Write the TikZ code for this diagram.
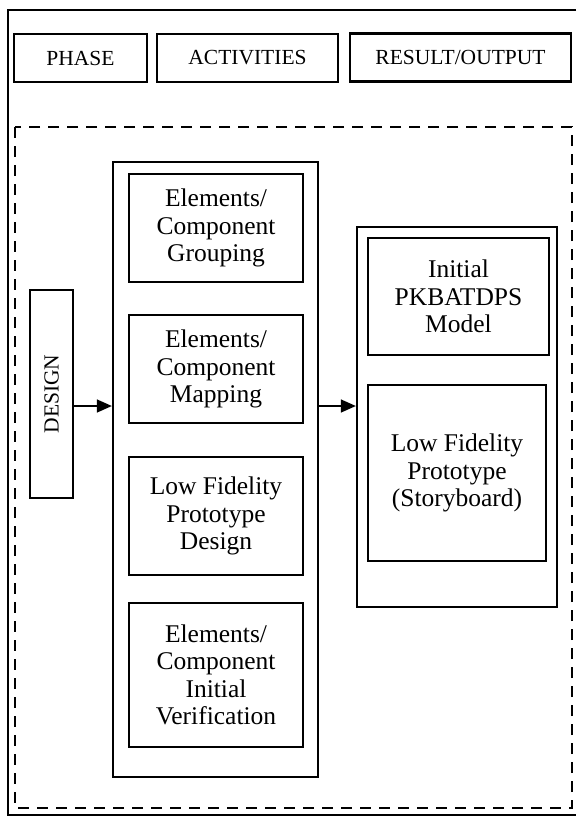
\documentclass[tikz,border=0pt]{standalone}
\usepackage{fontspec}
\setmainfont{Liberation Serif}
\usetikzlibrary{arrows.meta}
\newcommand{\boxfont}{\fontsize{25.5}{27.5}\selectfont}
\newcommand{\headfont}{\fontsize{21.5}{24}\selectfont}
\begin{document}
\begin{tikzpicture}[x=1pt,y=-1pt,
  bx/.style={draw, line width=2.3pt, inner sep=0pt, align=center, font=\boxfont},
  hd/.style={draw, line width=2.3pt, inner sep=0pt, align=center, font=\headfont, minimum height=48pt},
  arr/.style={line width=1.4pt, -{Triangle[length=15pt,width=13pt]}},
  dsh/.style={line width=2.5pt, dash pattern=on 11pt off 8pt}]
\useasboundingbox (0,0) rectangle (576,817);
% outer frame (right side runs off the picture)
\draw[line width=2.3pt] (576,10) -- (8,10) -- (8,815) -- (576,815);
% header
\node[hd, minimum width=133pt] (phase) at (80.5,58) {PHASE};
\node[hd, minimum width=181pt] (activities) at (247.5,58) {ACTIVITIES};
\node[hd, minimum width=221pt] (result) at (460.5,57.5) {RESULT/OUTPUT};
% dashed region
\draw[dsh] (15,127) rectangle (572,808);
% design
\node[bx, minimum width=43pt, minimum height=208pt] (design) at (51.5,394) {};
\node[rotate=90, font=\headfont, inner sep=0pt] (designtxt) at (design.center) {DESIGN};
% activities
\node[bx, minimum width=205pt, minimum height=615pt] (act) at (215.5,469.5) {};
\node[bx, minimum width=174pt, minimum height=108pt] (a1) at (216,228) {Elements/\\Component\\Grouping};
\node[bx, minimum width=174pt, minimum height=108pt] (a2) at (216,369) {Elements/\\Component\\Mapping};
\node[bx, minimum width=174pt, minimum height=118pt] (a3) at (216,516) {Low Fidelity\\Prototype\\Design};
\node[bx, minimum width=174pt, minimum height=144pt] (a4) at (216,675) {Elements/\\Component\\Initial\\Verification};
% results
\node[bx, minimum width=200pt, minimum height=380pt] (res) at (457,417) {};
\node[bx, minimum width=181pt, minimum height=117pt] (r1) at (458.5,296.5) {Initial\\PKBATDPS\\Model};
\node[bx, minimum width=178pt, minimum height=176pt] (r2) at (457,473) {Low Fidelity\\Prototype\\(Storyboard)};
% arrows
\coordinate (ay) at (0,406);
\draw[arr] (design.east |- ay) -- (act.west |- ay);
\draw[arr] (act.east |- ay) -- (res.west |- ay);
\end{tikzpicture}
\end{document}
